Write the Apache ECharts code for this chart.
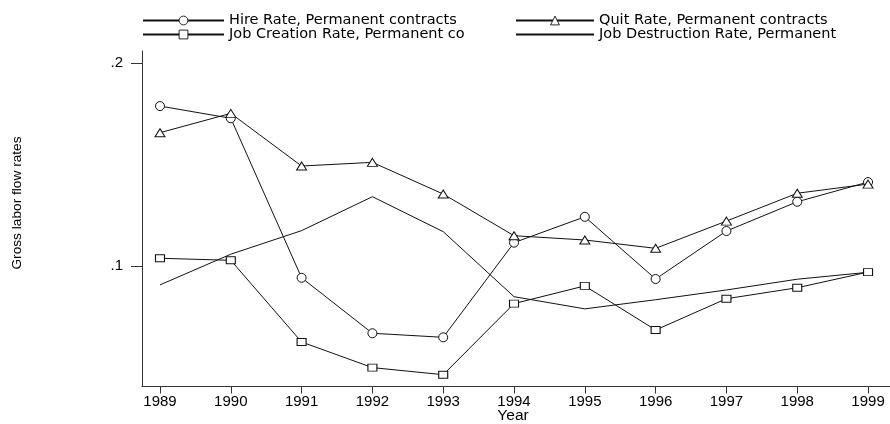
<!DOCTYPE html>
<html>
<head>
<meta charset="utf-8">
<script src="https://cdn.jsdelivr.net/npm/echarts@6/dist/echarts.min.js"></script>
<style>
html,body{margin:0;padding:0;background:#fff;}
#chart{width:890px;height:424px;}
</style>
</head>
<body>
<div id="chart"></div>
<script>
const years = [1989, 1990, 1991, 1992, 1993, 1994, 1995, 1996, 1997, 1998, 1999];
const hireRate = [0.1787, 0.1727, 0.0942, 0.0669, 0.0649, 0.1115, 0.1242, 0.0936, 0.1172, 0.1316, 0.1413];
const quitRate = [0.1656, 0.1751, 0.1492, 0.1510, 0.1354, 0.1149, 0.1128, 0.1087, 0.1221, 0.1358, 0.1403];
const jobCreation = [0.1038, 0.1028, 0.0626, 0.0500, 0.0465, 0.0815, 0.0902, 0.0685, 0.0839, 0.0893, 0.0970];
const jobDestruction = [0.0907, 0.1058, 0.1174, 0.1341, 0.1169, 0.0849, 0.0789, 0.0834, 0.0882, 0.0935, 0.0969];
const yTicks = [0.1, 0.2];
const names = [
  'Hire Rate, Permanent contracts',
  'Quit Rate, Permanent contracts',
  'Job Creation Rate, Permanent co',
  'Job Destruction Rate, Permanent'
];

const pair = arr => years.map((y, i) => [y, arr[i]]);
const ink = '#111';
const legendText = { fontFamily: 'DejaVu Sans', fontSize: 14.5, color: '#000', lineHeight: 14 };
function mkLegend(name, left, top, w, hidden) {
  const itemStyle = hidden
    ? { color: 'rgba(0,0,0,0)', borderColor: 'rgba(0,0,0,0)', opacity: 0 }
    : { color: '#fff', borderColor: ink, borderWidth: 0.9 };
  return {
    data: [{ name: name, itemStyle: itemStyle }], left: left, top: top, padding: 0, orient: 'horizontal',
    itemWidth: w, itemHeight: 11, itemGap: 0, itemTextGap: 4,
    textStyle: legendText, selectedMode: false
  };
}
function mkSeries(name, arr, symbol, size, show) {
  return {
    name: name, type: 'line', data: pair(arr),
    symbol: symbol, symbolSize: size, showSymbol: show,
    lineStyle: { color: ink, width: 1 },
    itemStyle: { color: '#fff', borderColor: ink, borderWidth: 1 },
    emphasis: { disabled: true }, animation: false, z: show ? 3 : 2
  };
}

const chart = echarts.init(document.getElementById('chart'), null, { renderer: 'canvas' });
chart.setOption({
  backgroundColor: '#fff',
  animation: false,
  grid: { left: 142, top: 51, right: 0, bottom: 37.5, containLabel: false },
  legend: [
    mkLegend(names[0], 142, 13, 81, false),
    mkLegend(names[1], 515, 13, 78, false),
    mkLegend(names[2], 142, 27, 81, false),
    mkLegend(names[3], 515, 27, 78, true)
  ],
  xAxis: {
    type: 'value', min: 1988.746, max: 1999.31,
    axisLine: { show: true, lineStyle: { color: '#333', width: 1 } },
    axisTick: { show: true, length: 7, customValues: years, lineStyle: { color: '#333' } },
    axisLabel: {
      customValues: years, margin: 8, formatter: v => String(v),
      fontFamily: 'Liberation Sans', fontSize: 15, color: '#000'
    },
    splitLine: { show: false }
  },
  yAxis: {
    type: 'value', min: 0.0407, max: 0.2058,
    axisLine: { show: true, lineStyle: { color: '#333', width: 1 } },
    axisTick: { show: true, length: 11, customValues: yTicks, lineStyle: { color: '#333' } },
    axisLabel: {
      customValues: yTicks, margin: 19, formatter: v => String(+v.toFixed(3)).replace(/^0/, ''),
      fontFamily: 'Liberation Sans', fontSize: 15, color: '#000'
    },
    splitLine: { show: false }
  },
  graphic: [
    { type: 'text', x: 17.5, y: 203, rotation: Math.PI / 2,
      style: { text: 'Gross labor flow rates', fontFamily: 'Liberation Sans', fontSize: 13.7, fill: '#000', align: 'center', verticalAlign: 'middle' } },
    { type: 'text', x: 513, y: 416,
      style: { text: 'Year', fontFamily: 'Liberation Sans', fontSize: 15.5, fill: '#000', align: 'center', verticalAlign: 'middle' } }
  ],
  series: [
    mkSeries(names[0], hireRate, 'circle', 9, true),
    mkSeries(names[1], quitRate, 'triangle', [10, 8], true),
    mkSeries(names[2], jobCreation, 'rect', [9, 7], true),
    mkSeries(names[3], jobDestruction, 'circle', 0, false)
  ]
});
</script>
</body>
</html>
